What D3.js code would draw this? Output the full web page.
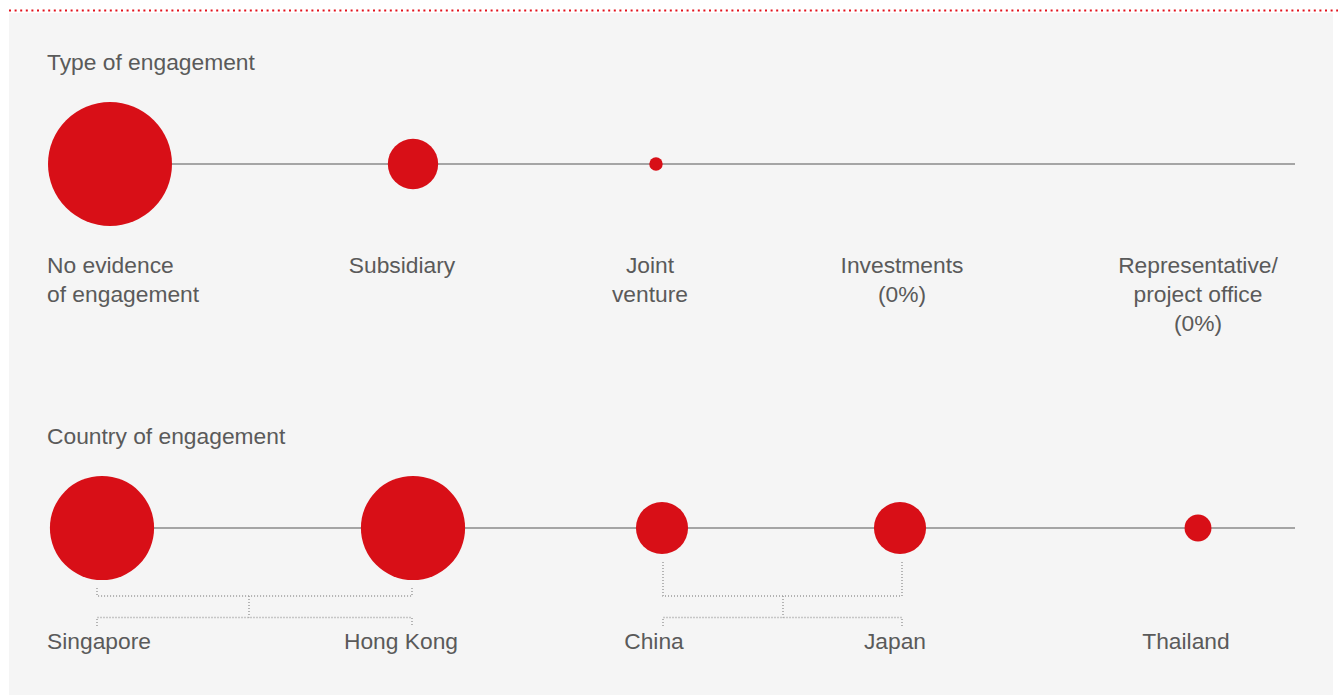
<!DOCTYPE html>
<html>
<head>
<meta charset="utf-8">
<script src="https://cdn.jsdelivr.net/npm/d3@7"></script>
<style>
  body { margin: 0; background: #fff; }
  svg text { font-family: "Liberation Sans", Arial, Helvetica, sans-serif; fill: #5a5a5a; font-size: 22.8px; }
</style>
</head>
<body>
<svg id="chart" width="1338" height="695"></svg>
<script>
// share of companies (%)
const types = ["No evidence|of engagement", "Subsidiary", "Joint|venture", "Investments|(0%)", "Representative/|project office|(0%)"];
const typeValues = [85, 14, 1, 0, 0];

const countries = ["Singapore", "Hong Kong", "China", "Japan", "Thailand"];
const countryValues = [60, 60, 15, 15, 4];

// pairs of countries joined by a bracket
const countryPairs = [["Singapore", "Hong Kong"], ["China", "Japan"]];

const W = 1338, H = 695;
const RED = "#d80f17";

const svg = d3.select("#chart");

svg.append("rect")
    .attr("x", 9).attr("y", 13)
    .attr("width", 1324).attr("height", H - 13)
    .attr("fill", "#f5f5f5");

svg.append("line")
    .attr("x1", 9).attr("x2", W)
    .attr("y1", 10.5).attr("y2", 10.5)
    .attr("stroke", "#e3121c")
    .attr("stroke-width", 2)
    .attr("stroke-dasharray", "2,3.6");

const r = d3.scaleSqrt().domain([0, 85]).range([0, 62]);

const xType = d3.scaleOrdinal().domain(types).range([110, 413, 656, 902, 1198]);
const xCountry = d3.scaleOrdinal().domain(countries).range([102, 413, 662, 900, 1198]);

// label nudges, the source labels sit a little left of some bubbles
const typeLabelShift = [0, -11, -6, 0, 0];
const countryLabelShift = [0, -12, -8, -5, -12];
// bracket ends don't always hit the bubble centre
const bracketShift = [-5, -1, 1, 2, 0];

const draw_row = function (g, cats, vals, x, cy, labelY, shift) {
    g.append("line")
        .attr("x1", x(cats[0])).attr("x2", 1295)
        .attr("y1", cy).attr("y2", cy)
        .attr("stroke", "#8a8a8a")
        .attr("stroke-width", 1.5);

    g.selectAll("circle.bub")
        .data(cats.map((c, i) => ({ c, v: vals[i] })).filter(d => d.v > 0))
        .join("circle")
        .attr("class", "bub")
        .attr("cx", d => x(d.c))
        .attr("cy", cy)
        .attr("r", d => r(d.v))
        .attr("fill", RED);

    cats.forEach((c, i) => {
        let lines = c.split("|");
        let first = i === 0;
        let t = g.append("text")
            .attr("text-anchor", first ? "start" : "middle")
            .attr("x", first ? 47 : x(c) + shift[i])
            .attr("y", labelY);
        lines.forEach((l, j) => {
            t.append("tspan")
                .attr("x", first ? 47 : x(c) + shift[i])
                .attr("dy", j === 0 ? 0 : 29)
                .text(l);
        });
    });
};

// Type of engagement
svg.append("text").attr("x", 47).attr("y", 70).text("Type of engagement");
draw_row(svg.append("g"), types, typeValues, xType, 164, 273, typeLabelShift);

// Country of engagement
svg.append("text").attr("x", 47).attr("y", 444).text("Country of engagement");
const cg = svg.append("g");
draw_row(cg, countries, countryValues, xCountry, 528, 649, countryLabelShift);

// dotted brackets between paired countries
const yTop = 596, yBot = 617.5, yBotTick = 626;
countryPairs.forEach(([a, b]) => {
    let ia = countries.indexOf(a), ib = countries.indexOf(b);
    let xa = xCountry(a) + bracketShift[ia], xb = xCountry(b) + bracketShift[ib];
    let ya = 528 + r(countryValues[ia]) + 8, yb = 528 + r(countryValues[ib]) + 8;
    let mid = Math.round((xa + xb) / 2) - (ia === 0 ? 6 : 0);
    let path = d3.path();
    path.moveTo(xa, ya); path.lineTo(xa, yTop); path.lineTo(xb, yTop); path.lineTo(xb, yb);
    path.moveTo(mid, yTop); path.lineTo(mid, yBot);
    path.moveTo(xa, yBotTick); path.lineTo(xa, yBot); path.lineTo(xb, yBot); path.lineTo(xb, yBotTick);
    cg.append("path")
        .attr("d", path.toString())
        .attr("fill", "none")
        .attr("stroke", "#999")
        .attr("stroke-width", 1.4)
        .attr("stroke-dasharray", "1,2");
});
</script>
</body>
</html>
